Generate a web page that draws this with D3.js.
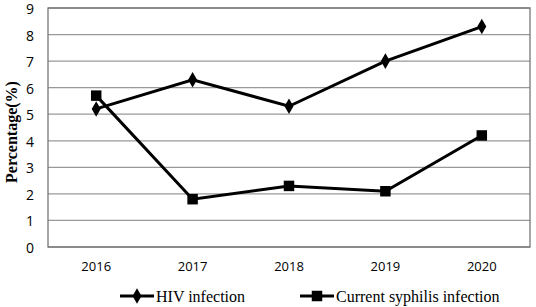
<!DOCTYPE html>
<html>
<head>
<meta charset="utf-8">
<script src="https://cdn.jsdelivr.net/npm/d3@7"></script>
<style>
  body { margin: 0; background: #fff; }
  svg { display: block; }
</style>
</head>
<body>
<div id="chart"></div>
<script>
const years = ['2016', '2017', '2018', '2019', '2020'];
const hiv = [5.2, 6.3, 5.3, 7.0, 8.3];
const syphilis = [5.7, 1.8, 2.3, 2.1, 4.2];
const yTicks = [0, 1, 2, 3, 4, 5, 6, 7, 8, 9];

const W = 536, H = 307;
const margin = { top: 8, right: 6, bottom: 60, left: 48 };
const iw = W - margin.left - margin.right;
const ih = H - margin.top - margin.bottom;

const svg = d3.select('#chart').append('svg')
  .attr('width', W).attr('height', H);

const g = svg.append('g').attr('transform', `translate(${margin.left},${margin.top})`);

const x = d3.scaleBand().domain(years).range([0, iw]);
const y = d3.scaleLinear().domain([0, 9]).range([ih, 0]);

// gridlines
g.append('g')
  .selectAll('line')
  .data(yTicks)
  .join('line')
  .attr('x1', 0).attr('x2', iw)
  .attr('y1', d => y(d)).attr('y2', d => y(d))
  .attr('stroke', '#999').attr('stroke-width', 1.3);

// plot border
g.append('rect')
  .attr('x', 0).attr('y', 0).attr('width', iw).attr('height', ih)
  .attr('fill', 'none').attr('stroke', '#777').attr('stroke-width', 1.3);

// y axis labels
g.append('g')
  .attr('transform', 'translate(0,1)')
  .call(d3.axisLeft(y).tickValues(yTicks).tickSize(0).tickPadding(14))
  .call(a => a.select('.domain').remove())
  .selectAll('text')
  .attr('font-family', 'Open Sans, sans-serif')
  .attr('font-size', '14px')
  .attr('fill', '#000');

// x axis labels
g.append('g')
  .attr('transform', `translate(0,${ih})`)
  .call(d3.axisBottom(x).tickSize(0).tickPadding(15))
  .call(a => a.select('.domain').remove())
  .selectAll('text')
  .attr('font-family', 'Open Sans, sans-serif')
  .attr('font-size', '13px')
  .attr('fill', '#000');

// y title
svg.append('text')
  .attr('transform', 'translate(11,132) rotate(-90)')
  .attr('text-anchor', 'middle')
  .attr('dominant-baseline', 'central')
  .attr('font-family', 'Liberation Serif, Times New Roman, serif')
  .attr('font-weight', 'bold')
  .attr('font-size', '16px')
  .text('Percentage(%)');

const cx = i => x(years[i]) + x.bandwidth() / 2;
const line = d3.line().x((d, i) => cx(i)).y(d => y(d));

const diamond = d3.symbol().type(d3.symbolDiamond).size(70);
const square = d3.symbol().type(d3.symbolSquare).size(110);

// HIV
g.append('path').datum(hiv)
  .attr('d', line).attr('fill', 'none')
  .attr('stroke', '#000').attr('stroke-width', 3);
g.selectAll('.hiv-pt').data(hiv).join('path')
  .attr('class', 'hiv-pt')
  .attr('transform', (d, i) => `translate(${cx(i)},${y(d)})`)
  .attr('d', diamond).attr('fill', '#000');

// Syphilis
g.append('path').datum(syphilis)
  .attr('d', line).attr('fill', 'none')
  .attr('stroke', '#000').attr('stroke-width', 3);
g.selectAll('.syph-pt').data(syphilis).join('path')
  .attr('class', 'syph-pt')
  .attr('transform', (d, i) => `translate(${cx(i)},${y(d)})`)
  .attr('d', square).attr('fill', '#000');

// legend
const legend = [
  { label: 'HIV infection', sym: diamond, x: 120 },
  { label: 'Current syphilis infection', sym: square, x: 300 }
];
const lg = svg.append('g').attr('transform', 'translate(0,296)');
legend.forEach(l => {
  lg.append('line')
    .attr('x1', l.x).attr('x2', l.x + 34)
    .attr('y1', 0).attr('y2', 0)
    .attr('stroke', '#000').attr('stroke-width', 3);
  lg.append('path')
    .attr('transform', `translate(${l.x + 17},0)`)
    .attr('d', l.sym).attr('fill', '#000');
  lg.append('text')
    .attr('x', l.x + 36).attr('y', 0)
    .attr('dominant-baseline', 'central')
    .attr('font-family', 'Liberation Serif, Times New Roman, serif')
    .attr('font-size', '16px')
    .text(l.label);
});
</script>
</body>
</html>
